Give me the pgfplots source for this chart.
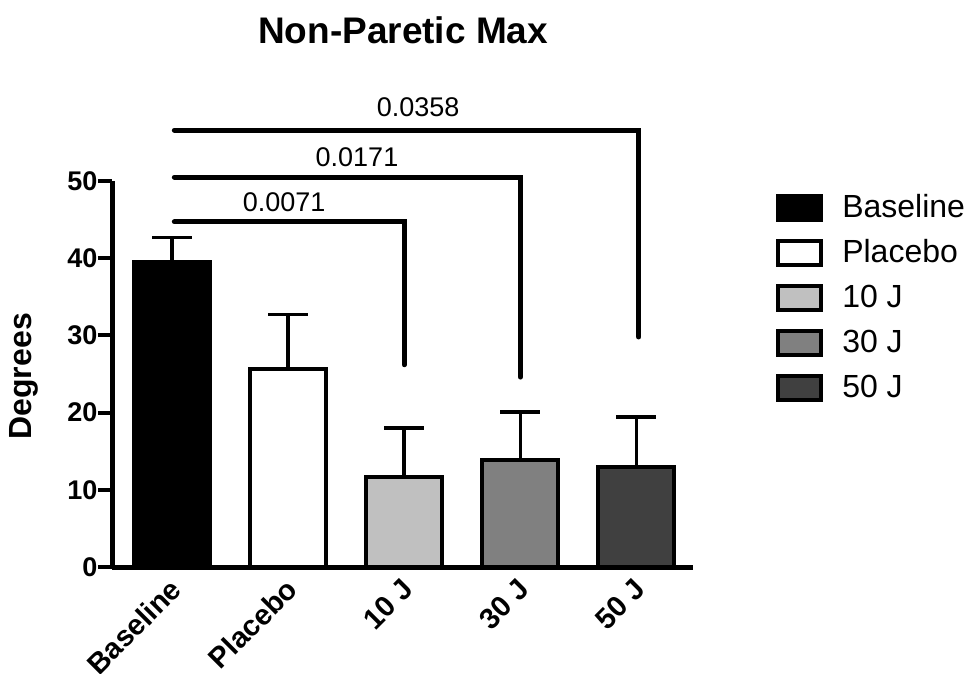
\documentclass[border=0pt]{standalone}
\usepackage{pgfplots}
\pgfplotsset{compat=1.18}
\usepackage{fontspec}
\setmainfont{Liberation Sans}

\definecolor{g10}{HTML}{C0C0C0}
\definecolor{g30}{HTML}{808080}
\definecolor{g50}{HTML}{404040}

\begin{document}
\begin{tikzpicture}
\path[use as bounding box] (0,0) rectangle (969pt,673pt);
\begin{axis}[
    at={(112pt,106pt)}, anchor=south west,
    scale only axis, width=581pt, height=386pt,
    xmin=-0.517, xmax=4.487, ymin=0, ymax=50,
    enlarge x limits=false,
    axis lines=left,
    axis line style={-, line width=5pt},
    clip=false,
    ytick={0,10,...,50},
    xtick={0,1,2,3,4},
    xticklabels={Baseline,Placebo,10 J,30 J,50 J},
    xtick style={draw=none},
    ytick style={line width=4pt, black},
    tick align=outside, major tick length=14pt,
    /pgf/number format/assume math mode=true,
    yticklabel style={font=\fontsize{27}{27}\selectfont\bfseries, xshift=3pt},
    xticklabel style={font=\fontsize{29}{29}\selectfont\bfseries,
        rotate=45, anchor=north east, xshift=4pt, yshift=9pt},
    title={Non-Paretic Max},
    title style={font=\fontsize{37}{37}\selectfont\bfseries,
        at={(axis description cs:0.501,1.376)}, anchor=center},
    ylabel={Degrees},
    ylabel style={font=\fontsize{32}{32}\selectfont\bfseries,
        at={(axis description cs:-0.151,0.494)}, anchor=center},
    legend style={at={(axis description cs:1.143,0.966)}, anchor=north west,
        draw=none, fill=none, inner sep=0pt, row sep=17pt,
        font=\fontsize{32}{32}\selectfont,
        nodes={inner sep=0pt, anchor=west, text height=23pt, text depth=5pt}},
    legend cell align=left,
    legend image code/.code={\draw[#1, line width=4pt] (0pt,-12pt) rectangle (43pt,12pt);},
    every axis plot/.append style={ybar, bar width=76pt, bar shift=0pt,
        draw=black, line width=4pt},
    error bars/y dir=plus, error bars/y explicit,
    error bars/error bar style={line width=3.5pt, black},
    error bars/error mark options={rotate=90, mark size=20pt, line width=3.5pt, black},
]
\addplot[fill=black] coordinates {(0,39.5) +- (0,3.2)};
\addlegendentry{\hspace{19pt}Baseline}
\addplot[fill=white] coordinates {(1,25.7) +- (0,7.0)};
\addlegendentry{\hspace{19pt}Placebo}
\addplot[fill=g10] coordinates {(2,11.7) +- (0,6.3)};
\addlegendentry{\hspace{19pt}10 J}
\addplot[fill=g30] coordinates {(3,13.9) +- (0,6.2)};
\addlegendentry{\hspace{19pt}30 J}
\addplot[fill=g50] coordinates {(4,13.0) +- (0,6.4)};
\addlegendentry{\hspace{19pt}50 J}

% significance brackets
\draw[line width=5pt, line cap=round, line join=miter]
    (axis cs:0.02,44.7) -- (axis cs:2,44.7) -- (axis cs:2,26.2);
\draw[line width=5pt, line cap=round, line join=miter]
    (axis cs:0.02,50.5) -- (axis cs:3,50.5) -- (axis cs:3,24.6);
\draw[line width=5pt, line cap=round, line join=miter]
    (axis cs:0.02,56.6) -- (axis cs:4.02,56.6) -- (axis cs:4.02,29.8);
\node[font=\fontsize{27}{27}\selectfont] at (axis cs:0.965,47.3) {0.0071};
\node[font=\fontsize{27}{27}\selectfont] at (axis cs:1.593,53.1) {0.0171};
\node[font=\fontsize{27}{27}\selectfont] at (axis cs:2.119,59.6) {0.0358};
\end{axis}
\end{tikzpicture}
\end{document}
